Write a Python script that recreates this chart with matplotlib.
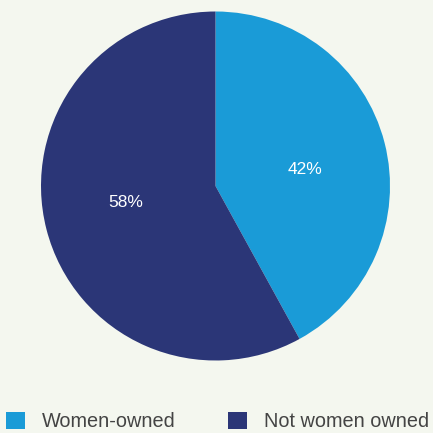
import matplotlib.pyplot as plt

labels = ['Women-owned', 'Not women owned']
shares = [42, 58]
colors = ['#1a9bd7', '#2b3677']
bg = '#f4f7ef'

plt.rcParams['font.family'] = ['Liberation Sans', 'DejaVu Sans']

fig = plt.figure(figsize=(4.33, 4.33), dpi=100, facecolor=bg)
ax = fig.add_axes([41 / 433, 72.5 / 433, 349 / 433, 349 / 433])
ax.set_facecolor(bg)

wedges, texts, autotexts = ax.pie(shares, colors=colors, startangle=90, counterclock=False,
                                  autopct='%d%%', pctdistance=0.53,
                                  textprops={'color': 'white', 'fontsize': 12.5})
# labels sit a bit closer to the horizontal than the wedge middle
for t in autotexts:
    x, y = t.get_position()
    t.set_position((x, y * 0.72))

ax.set_xlim(-1, 1)
ax.set_ylim(-1, 1)
ax.set_aspect('equal')

fig.legend(wedges, labels, loc='lower left', bbox_to_anchor=(0.005, -0.005), ncol=2,
           frameon=False, fontsize=14.3, handlelength=0.97, handleheight=0.97,
           handletextpad=0.85, columnspacing=2.6, borderaxespad=0, borderpad=0.2,
           labelcolor='#444444')

fig.savefig('out.png', dpi=100, facecolor=bg)
